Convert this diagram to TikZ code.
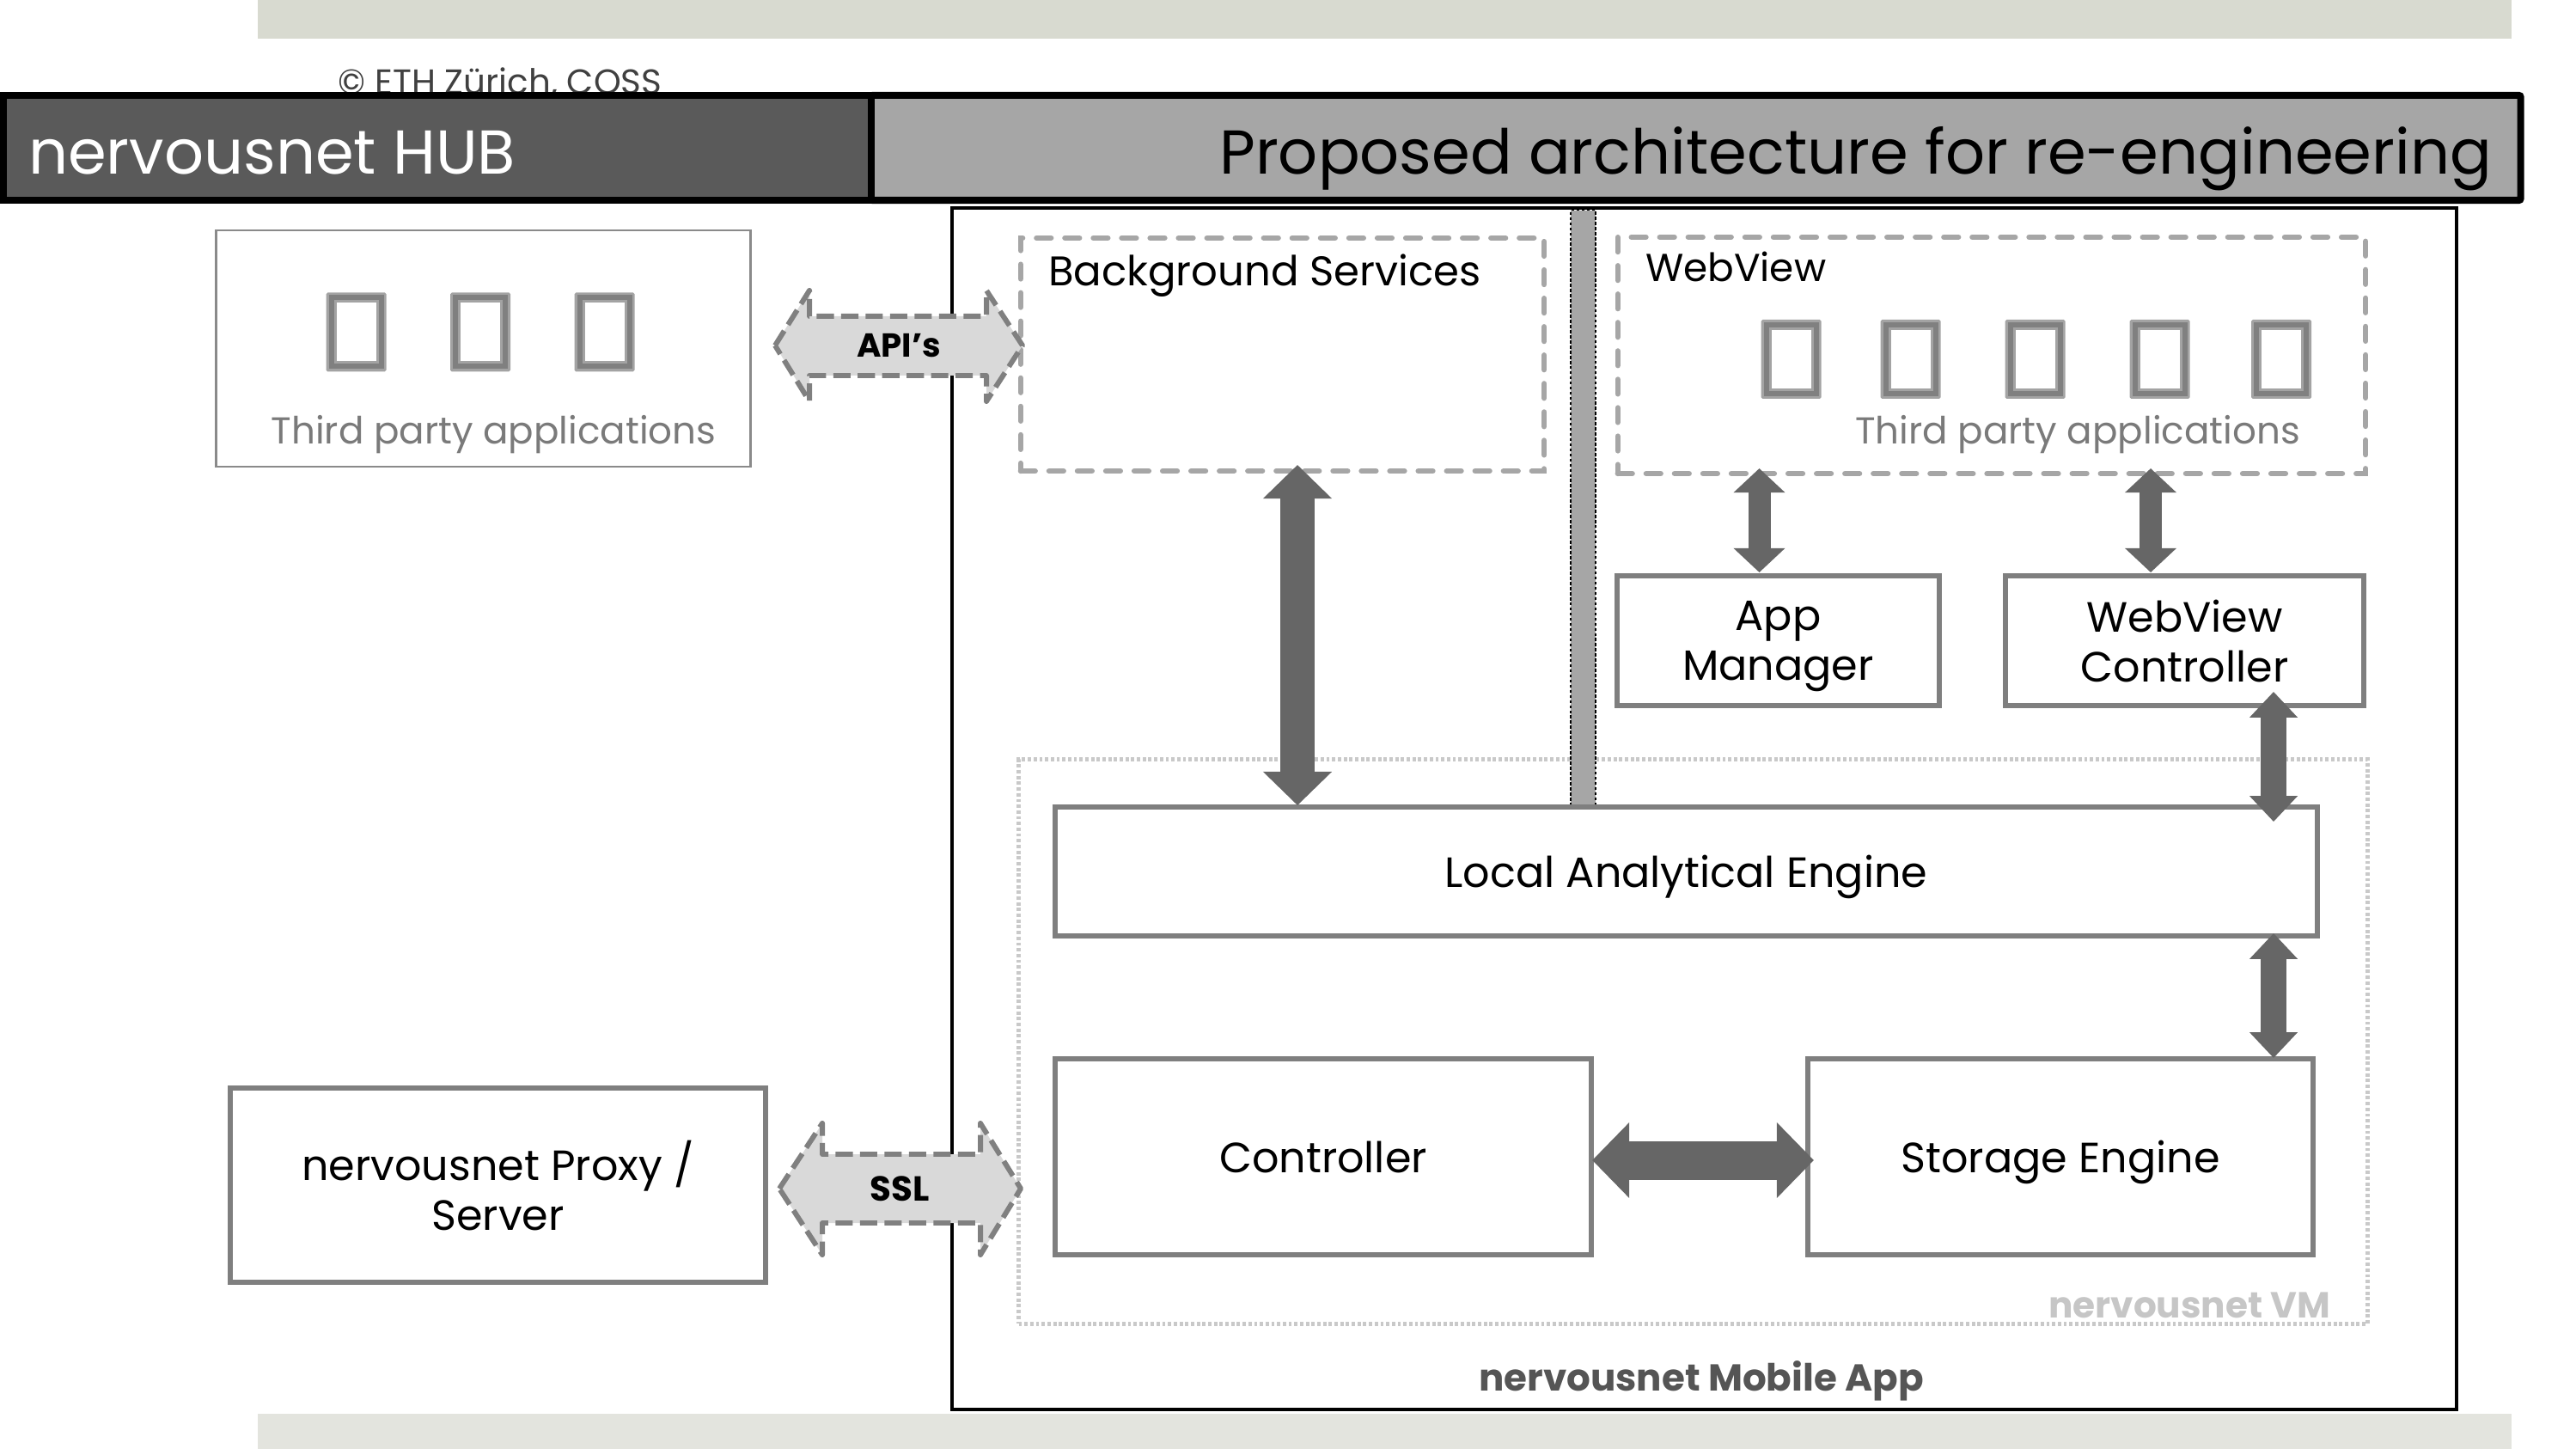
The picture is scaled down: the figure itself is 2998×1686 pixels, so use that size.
\documentclass[tikz,border=0pt]{standalone}
\usepackage{fontspec}
\setmainfont{Poppins}
\usetikzlibrary{arrows.meta,calc}
\definecolor{topbar}{HTML}{D8DAD0}
\definecolor{botbar}{HTML}{E3E4DE}
\definecolor{hubdark}{HTML}{5A5A5A}
\definecolor{titlegray}{HTML}{A6A6A6}
\definecolor{dashgray}{HTML}{A6A6A6}
\definecolor{boxgray}{HTML}{7F7F7F}
\definecolor{arrowgray}{HTML}{666666}
\definecolor{apifill}{HTML}{D9D9D9}
\definecolor{apiline}{HTML}{808080}
\definecolor{vmgray}{HTML}{C9C9C9}
\definecolor{vmtext}{HTML}{C6C6C6}
\definecolor{thirdtext}{HTML}{7A7A7A}
\definecolor{mobiletext}{HTML}{555555}
\definecolor{iconlight}{HTML}{A3A3A3}
\definecolor{icondark}{HTML}{808080}
\definecolor{copygray}{HTML}{404040}
\definecolor{thirdbox}{HTML}{8A8A8A}
\definecolor{divfill}{HTML}{A6A6A6}
\begin{document}
\begin{tikzpicture}[x=0.01cm,y=-0.01cm,outer sep=0pt,
  solidbox/.style={draw=boxgray,line width=1.7pt,fill=white,inner sep=0pt,align=center,text depth=0pt,
    font=\fontsize{14pt}{16.5pt}\selectfont},
  dashbox/.style={draw=dashgray,line width=1.8pt,line cap=round,dash pattern=on 4.8pt off 4.6pt,inner sep=0pt},
  bigarrow/.style={draw=arrowgray,line width=11.4pt,
    arrows={Triangle[length=11.1pt,width=22.8pt,line width=0pt]-Triangle[length=11.1pt,width=22.8pt,line width=0pt]}},
  smallarrow/.style={draw=arrowgray,line width=7.4pt,
    arrows={Triangle[length=8pt,width=17.1pt,line width=0pt]-Triangle[length=8pt,width=17.1pt,line width=0pt]}},
  midarrow/.style={draw=arrowgray,line width=8.5pt,
    arrows={Triangle[length=8.5pt,width=16pt,line width=0pt]-Triangle[length=8.5pt,width=16pt,line width=0pt]}},
  wideharrow/.style={draw=arrowgray,line width=12.8pt,
    arrows={Triangle[length=12.2pt,width=25pt,line width=0pt]-Triangle[length=12.2pt,width=25pt,line width=0pt]}},
  linkarrow/.style={draw=apiline,fill=apifill,line width=1.7pt,dash pattern=on 5.7pt off 2.4pt,line join=round},
  boldlabel/.style={inner sep=0pt,font=\bfseries\fontsize{11pt}{13pt}\selectfont},
  appicon/.pic={
    \fill[iconlight,rounded corners=0.5pt] (-35,-46) rectangle (35,46);
    \fill[icondark] (-32,-43) rectangle (32,43);
    \fill[iconlight] (-26,-37) rectangle (26,37);
    \fill[white] (-23,-34) rectangle (23,34);
  }]
\useasboundingbox (0,0) rectangle (2998,1686);
% decorative bars
\fill[topbar] (300,0) rectangle (2923,45);
\fill[botbar] (300,1645) rectangle (2923,1686);
% copyright (partly hidden by header)
\node[anchor=base,inner sep=0pt,text=copygray,font=\fontsize{11.5pt}{13pt}\selectfont] (copyr) at (582,110) {© ETH Zürich, COSS};
% header
\node[draw=black,line width=2.3pt,fill=titlegray,rounded corners=0.6pt,minimum width=19.19cm,minimum height=1.22cm,inner sep=0pt] (titlebar) at (1973.5,172) {};
\node[draw=black,line width=2.3pt,fill=hubdark,minimum width=10.10cm,minimum height=1.22cm,inner sep=0pt] (hubbar) at (509,172) {};
\node[anchor=base west,inner sep=0pt,text=white,font=\fontsize{20.5pt}{24pt}\selectfont] (hubtitle) at (33,203) {nervousnet HUB};
\node[anchor=base east,inner sep=0pt,text=black,font=\fontsize{20.5pt}{24pt}\selectfont] (proptitle) at (2900,203) {Proposed architecture for re-engineering};
% mobile app frame
\node[draw=black,line width=1.14pt,minimum width=17.50cm,minimum height=13.98cm,inner sep=0pt] (mobile) at (1983,941) {};
% VM frame
\node[draw=vmgray,line width=1.5pt,dash pattern=on 1.1pt off 0.8pt,minimum width=15.69cm,minimum height=6.56cm,inner sep=0pt] (vm) at (1970.5,1212) {};
% divider
\node[draw=black,line width=0.4pt,dash pattern=on 1pt off 0.7pt,fill=divfill,minimum width=0.29cm,minimum height=6.93cm,inner sep=0pt] (divider) at (1842.5,591.5) {};
% dashed containers
\node[dashbox,minimum width=6.09cm,minimum height=2.71cm] (bg) at (1492.5,412.5) {};
\node[dashbox,minimum width=8.70cm,minimum height=2.75cm] (wv) at (2318,413.5) {};
% third party box (hub side)
\node[draw=thirdbox,line width=0.8pt,minimum width=6.21cm,minimum height=2.75cm,inner sep=0pt] (tpa) at (562.5,405.5) {};
% icons
\pic at (414.5,386.5) {appicon};
\pic at (559,386.5) {appicon};
\pic at (703.5,386.5) {appicon};
\pic at (2084.5,418) {appicon};
\pic at (2223.5,418) {appicon};
\pic at (2368.5,418) {appicon};
\pic at (2513.5,418) {appicon};
\pic at (2655,418) {appicon};
% solid boxes
\node[solidbox,minimum width=3.75cm,minimum height=1.51cm] (am) at (2069.5,745.5) {App\\Manager};
\node[solidbox,minimum width=4.17cm,minimum height=1.51cm] (wvc) at (2542.5,745.5) {WebView\\Controller};
\node[solidbox,minimum width=14.69cm,minimum height=1.50cm] (lae) at (1962.5,1014) {Local Analytical Engine};
\node[solidbox,minimum width=6.24cm,minimum height=2.28cm] (ctrl) at (1540,1346) {Controller};
\node[solidbox,minimum width=5.88cm,minimum height=2.28cm] (se) at (2398,1346) {Storage Engine};
\node[solidbox,minimum width=6.23cm,minimum height=2.26cm] (proxy) at (579.5,1379) {nervousnet Proxy /\\Server};
% dark connectors
\draw[bigarrow] ($(bg.south)+(17.5,-7)$) -- ($(bg.south |- lae.north)+(17.5,-2)$);
\draw[smallarrow] ($(am.north |- wv.south)+(-22,-6)$) -- ($(am.north)+(-22,-4)$);
\draw[smallarrow] ($(wvc.north |- wv.south)+(-39.5,-6)$) -- ($(wvc.north)+(-39.5,-4)$);
\draw[midarrow] ($(wvc.south)+(103.5,-16)$) -- ($(wvc.south |- lae.north)+(103.5,17)$);
\draw[midarrow] ($(se.north |- lae.south)+(248,-3)$) -- ($(se.north)+(248,-1)$);
\draw[wideharrow] ($(ctrl.east)+(1,4)$) -- ($(se.west)+(7,4)$);
% API and SSL links
\coordinate (apic) at (1046,402);
\draw[linkarrow] ($(apic)+(-144,0)$) -- ($(apic)+(-104,-64)$) -- ($(apic)+(-104,-34)$) -- ($(apic)+(102,-34)$) -- ($(apic)+(102,-64)$) -- ($(apic)+(144,0)$) -- ($(apic)+(102,65)$) -- ($(apic)+(102,35)$) -- ($(apic)+(-104,35)$) -- ($(apic)+(-104,65)$) -- cycle;
\node[boldlabel] (api) at (apic) {API’s};
\coordinate (sslc) at (1047,1383);
\draw[linkarrow] ($(sslc)+(-140,0)$) -- ($(sslc)+(-90,-76)$) -- ($(sslc)+(-90,-40)$) -- ($(sslc)+(94,-40)$) -- ($(sslc)+(94,-76)$) -- ($(sslc)+(141,0)$) -- ($(sslc)+(94,77)$) -- ($(sslc)+(94,40)$) -- ($(sslc)+(-90,40)$) -- ($(sslc)+(-90,77)$) -- cycle;
\node[boldlabel,font=\bfseries\fontsize{11.5pt}{13pt}\selectfont] (ssl) at (sslc) {SSL};
% texts
\node[anchor=base west,inner sep=0pt,font=\fontsize{13.7pt}{16pt}\selectfont] (bgtext) at (1220,333) {Background Services};
\node[anchor=base west,inner sep=0pt,font=\fontsize{12.9pt}{15pt}\selectfont] (wvtext) at (1915,328) {WebView};
\node[anchor=base,inner sep=0pt,text=thirdtext,font=\fontsize{12.4pt}{15pt}\selectfont] (tpatext) at (574.5,517) {Third party applications};
\node[anchor=base,inner sep=0pt,text=thirdtext,font=\fontsize{12.4pt}{15pt}\selectfont] (wvtpatext) at (2418,517) {Third party applications};
\node[anchor=base east,inner sep=0pt,text=vmtext,font=\bfseries\fontsize{12pt}{14pt}\selectfont] (vmtext) at (2712,1533) {nervousnet VM};
\node[anchor=base,inner sep=0pt,text=mobiletext,font=\bfseries\fontsize{12.4pt}{14pt}\selectfont] (mobiletext) at (1980,1618) {nervousnet Mobile App};
\end{tikzpicture}
\end{document}
